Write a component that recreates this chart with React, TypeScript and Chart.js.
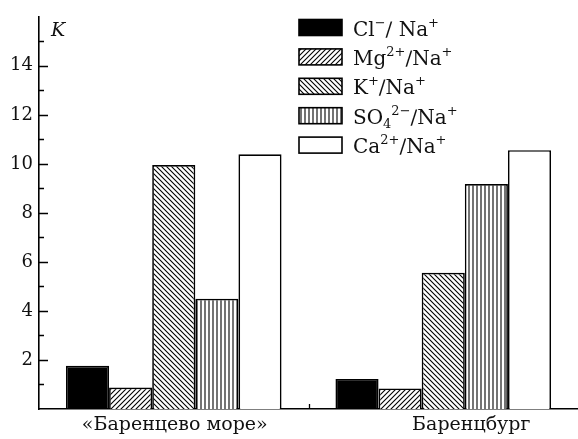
import React, { useEffect, useRef } from "react";
import { Chart, registerables } from "chart.js";

Chart.register(...registerables);

// ---- data ----
const categories = ["«Баренцево море»", "Баренцбург"];
const seriesNames = ["Cl-/Na+", "Mg2+/Na+", "K+/Na+", "SO42-/Na+", "Ca2+/Na+"];
const clNa = [1.76, 1.22];
const mgNa = [0.88, 0.84];
const kNa = [9.95, 5.56];
const so4Na = [4.5, 9.18];
const caNa = [10.39, 10.56];
const yMajorTicks = [2, 4, 6, 8, 10, 12, 14];
const yMinorTicks = [1, 3, 5, 7, 9, 11, 13, 15];
const yAxisLabel = "K";

type Seg = [string, "" | "sup" | "sub"];
const legendLabels: Seg[][] = [
  [["Cl", ""], ["−", "sup"], ["∕ Na", ""], ["+", "sup"]],
  [["Mg", ""], ["2+", "sup"], ["∕Na", ""], ["+", "sup"]],
  [["K", ""], ["+", "sup"], ["∕Na", ""], ["+", "sup"]],
  [["SO", ""], ["4", "sub"], ["2−", "sup"], ["∕Na", ""], ["+", "sup"]],
  [["Ca", ""], ["2+", "sup"], ["∕Na", ""], ["+", "sup"]],
];

const FONT = "'DejaVu Serif', serif";

function makePattern(kind: string): CanvasPattern | string {
  const s = kind === "v" ? 4 : 5;
  const c = document.createElement("canvas");
  c.width = s;
  c.height = s;
  const g = c.getContext("2d")!;
  g.fillStyle = "#fff";
  g.fillRect(0, 0, s, s);
  g.strokeStyle = "#000";
  g.lineWidth = 1.1;
  g.beginPath();
  if (kind === "/") {
    g.moveTo(-1, s + 1); g.lineTo(s + 1, -1);
    g.moveTo(-1, 1); g.lineTo(1, -1);
    g.moveTo(s - 1, s + 1); g.lineTo(s + 1, s - 1);
  } else if (kind === "\\") {
    g.moveTo(-1, -1); g.lineTo(s + 1, s + 1);
    g.moveTo(s - 1, -1); g.lineTo(s + 1, 1);
    g.moveTo(-1, s - 1); g.lineTo(1, s + 1);
  } else {
    g.moveTo(1, 0); g.lineTo(1, s);
  }
  g.stroke();
  const ctx = document.createElement("canvas").getContext("2d")!;
  return ctx.createPattern(c, "repeat")!;
}

export default function App() {
  const ref = useRef<HTMLCanvasElement | null>(null);

  useEffect(() => {
    const canvas = ref.current!;
    const fills: (CanvasPattern | string)[] = [
      "#000",
      makePattern("/"),
      makePattern("\\"),
      makePattern("v"),
      "#fff",
    ];
    const values = [clNa, mgNa, kNa, so4Na, caNa];

    const decor = {
      id: "decor",
      afterDraw(chart: any) {
        const ctx: any = chart.ctx;
        const xs = chart.scales.x;
        const ys = chart.scales.y;
        const area = chart.chartArea;
        ctx.save();
        // y ticks (inward)
        ctx.strokeStyle = "#000";
        ctx.lineWidth = 1.3;
        ctx.beginPath();
        yMajorTicks.forEach((v) => {
          const y = Math.round(ys.getPixelForValue(v)) + 0.5;
          ctx.moveTo(area.left, y);
          ctx.lineTo(area.left + 9, y);
        });
        yMinorTicks.forEach((v) => {
          const y = Math.round(ys.getPixelForValue(v)) + 0.5;
          ctx.moveTo(area.left, y);
          ctx.lineTo(area.left + 5, y);
        });
        // x tick between categories
        for (let i = 0; i < categories.length - 1; i++) {
          const x = Math.round((xs.getPixelForValue(i) + xs.getPixelForValue(i + 1)) / 2) + 0.5;
          ctx.moveTo(x, area.bottom);
          ctx.lineTo(x, area.bottom - 5);
        }
        ctx.stroke();

        // x labels
        const shifts = [1, 28];
        ctx.fillStyle = "#111";
        ctx.font = `19px ${FONT}`;
        ctx.textAlign = "center";
        ctx.textBaseline = "alphabetic";
        categories.forEach((c, i) => {
          ctx.fillText(c, xs.getPixelForValue(i) + shifts[i], area.bottom + 21);
        });

        // axis label
        ctx.font = `italic 19px ${FONT}`;
        ctx.textAlign = "left";
        ctx.fillText(yAxisLabel, area.left + 12, area.top + 19);

        // legend
        const bx = 299, bw = 43, bh = 16, step = 29.4, by0 = 19.5;
        legendLabels.forEach((segs, i) => {
          const y = by0 + i * step;
          ctx.fillStyle = fills[i];
          ctx.fillRect(bx, y, bw, bh);
          ctx.strokeStyle = "#000";
          ctx.lineWidth = 1.6;
          ctx.strokeRect(bx, y, bw, bh);
          let x = 353;
          const base = y + bh;
          ctx.fillStyle = "#111";
          segs.forEach(([t, mode]) => {
            if (mode === "") {
              ctx.font = `20px ${FONT}`;
              ctx.fillText(t, x, base);
            } else if (mode === "sup") {
              ctx.font = `13px ${FONT}`;
              ctx.fillText(t, x, base - 9);
            } else {
              ctx.font = `13px ${FONT}`;
              ctx.fillText(t, x, base + 4);
            }
            x += ctx.measureText(t).width;
          });
        });
        ctx.restore();
      },
    };

    const chart = new Chart(canvas, {
      type: "bar",
      data: {
        labels: categories,
        datasets: values.map((v, i) => ({
          label: seriesNames[i],
          data: v,
          backgroundColor: fills[i] as any,
          borderColor: "#000",
          borderWidth: 1.7,
          categoryPercentage: 0.8,
          barPercentage: 1.0,
        })),
      },
      options: {
        responsive: false,
        animation: false,
        layout: { padding: { top: 13, left: 0, right: 0, bottom: 0 } },
        plugins: { legend: { display: false }, tooltip: { enabled: false } },
        scales: {
          x: {
            grid: { display: false, drawTicks: false },
            border: { display: true, color: "#000", width: 1.6 },
            ticks: { display: false },
            afterFit: (s: any) => { s.height = 30; },
          },
          y: {
            min: 0,
            max: 16,
            grid: { display: false, drawTicks: false },
            border: { display: true, color: "#000", width: 1.6 },
            ticks: {
              stepSize: 2,
              padding: 6,
              color: "#111",
              font: { family: FONT, size: 18 },
              callback: (v: any) => (yMajorTicks.includes(Number(v)) ? String(v) : ""),
            },
            afterFit: (s: any) => { s.width = 39; },
          },
        },
      },
      plugins: [decor],
    });
    return () => chart.destroy();
  }, []);

  return (
    <div style={{ position: "fixed", left: 0, top: 0, width: 578, height: 439, background: "#fff" }}>
      <canvas ref={ref} width={578} height={439} style={{ width: 578, height: 439 }} />
    </div>
  );
}
